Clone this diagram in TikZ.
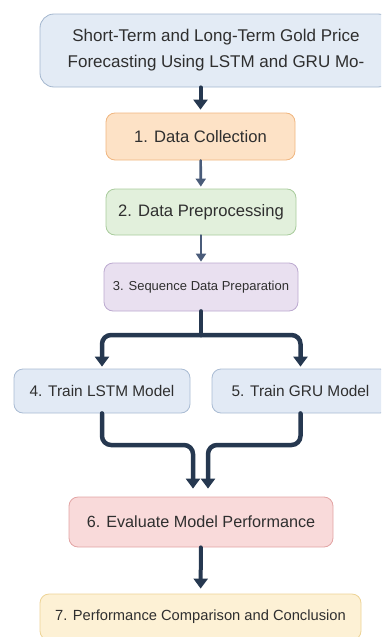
\documentclass[tikz,border=0pt]{standalone}
\usepackage{fontspec}
\setmainfont{Liberation Sans}
\usetikzlibrary{arrows.meta,calc}
\definecolor{ink}{HTML}{2F2F2F}
\definecolor{navy}{HTML}{263850}
\definecolor{slate}{HTML}{4A5C7A}
\definecolor{tfill}{HTML}{E3EBF5}\definecolor{tline}{HTML}{A3B6CE}
\definecolor{ofill}{HTML}{FDE2C6}\definecolor{oline}{HTML}{F0B680}
\definecolor{gfill}{HTML}{E2F0DC}\definecolor{gline}{HTML}{A9CC9D}
\definecolor{pfill}{HTML}{E9E0F0}\definecolor{pline}{HTML}{BCAAD0}
\definecolor{bfill}{HTML}{E2EAF5}\definecolor{bline}{HTML}{A9BBD3}
\definecolor{rfill}{HTML}{F9DADA}\definecolor{rline}{HTML}{E2A4A4}
\definecolor{yfill}{HTML}{FDF1D5}\definecolor{yline}{HTML}{EDD395}
\tikzset{
  bx/.style={rectangle,rounded corners=9pt,draw,line width=0.8pt,text=ink,
             inner sep=0pt,align=center},
  thk/.style={draw=navy,line width=4.5pt,rounded corners=9pt,
              -{Triangle[width=14pt,length=10pt]}},
  thn/.style={draw=slate,line width=2.6pt,-{Triangle[width=10pt,length=8pt]}},
  every picture/.style={line cap=round,line join=round}}

\begin{document}
\begin{tikzpicture}[x=1pt,y=-1pt]
  \useasboundingbox (0,0) rectangle (381,637);
  \clip (0,0) rectangle (381,637);
  \node[bx,fill=tfill,draw=tline,rounded corners=14pt,minimum width=352pt,minimum height=73pt,
        font=\fontsize{17}{26}\selectfont] (top) at (216,50.5)
        {Short-Term and Long-Term Gold Price\\Forecasting Using LSTM and GRU Mo-};
  \node[bx,fill=ofill,draw=oline,minimum width=189pt,minimum height=47pt,
        font=\fontsize{16.6}{20}\selectfont] (s1) at (200.5,136.5){1. Data Collection};
  \node[bx,fill=gfill,draw=gline,minimum width=190pt,minimum height=46pt,
        font=\fontsize{16.6}{20}\selectfont] (s2) at (201,212){2. Data Preprocessing};
  \node[bx,fill=pfill,draw=pline,minimum width=194pt,minimum height=48pt,
        font=\fontsize{13}{16}\selectfont] (s3) at (201,287){3. Sequence Data Preparation};
  \node[bx,fill=bfill,draw=bline,minimum width=176pt,minimum height=44pt,
        font=\fontsize{15.4}{18}\selectfont] (s4) at (102,391){4. Train LSTM Model};
  \node[bx,fill=bfill,draw=bline,minimum width=177pt,minimum height=44pt,
        font=\fontsize{15.4}{18}\selectfont] (s5) at (300.5,391){5. Train GRU Model};
  \node[bx,fill=rfill,draw=rline,minimum width=264pt,minimum height=50pt,
        font=\fontsize{16.2}{20}\selectfont] (s6) at (201,522){6. Evaluate Model Performance};
  \node[bx,fill=yfill,draw=yline,minimum width=321pt,minimum height=46pt,
        font=\fontsize{14.7}{18}\selectfont] (s7) at (200.5,617){7. Performance Comparison and Conclusion};
  % straight links
  \draw[thk,line width=4pt,shorten >=3pt] (top.south -| s1.north) -- (s1.north);
  \draw[thn,shorten >=2pt] (s1) -- (s2);
  \draw[thn,shorten >=1pt] (s2) -- (s3);
  \draw[thk,line width=4pt,shorten >=5pt] (s6) -- (s7);
  % fork and merge
  \coordinate (fk) at (201,335);
  \draw[draw=navy,line width=4.5pt] (s3.south) -- (fk);
  \draw[thk,shorten >=2pt] (fk) -| (s4.north);
  \draw[thk,shorten >=2pt] (fk) -| (s5.north);
  \coordinate (j4) at (193,445);\coordinate (j5) at (208,445);
  \draw[thk,shorten >=8pt] (s4.south) |- (j4) -- (j4 |- s6.north);
  \draw[thk,shorten >=8pt] (s5.south) |- (j5) -- (j5 |- s6.north);
\end{tikzpicture}
\end{document}
